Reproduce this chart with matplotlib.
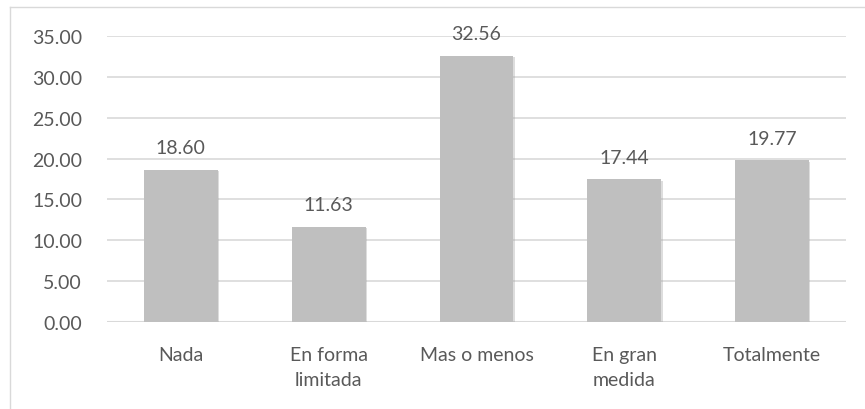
from matplotlib import pyplot as plt
from matplotlib import patheffects as pe
from matplotlib.lines import Line2D
import numpy as np

categories = ['Nada', 'En forma\nlimitada', 'Mas o menos', 'En gran\nmedida', 'Totalmente']
values = [18.60, 11.63, 32.56, 17.44, 19.77]
yticks = [0, 5, 10, 15, 20, 25, 30, 35]

plt.rcParams['font.family'] = ['Lato', 'DejaVu Sans']
txt = '#595959'
fs = 14

W, H = 865, 410
fig = plt.figure(figsize=(W / 100, H / 100), dpi=100)
ax = fig.add_axes([107 / W, 1 - 323 / H, (846 - 107) / W, (323 - 37) / H])

x = np.arange(len(categories))
bars = ax.bar(x, values, 0.5, color='#bfbfbf', zorder=3)
for b in bars:
    b.set_path_effects([pe.SimplePatchShadow(offset=(1, -1), shadow_rgbFace='#a0a0a0', alpha=0.35),
                        pe.Normal()])

for xi, v in zip(x, values):
    ax.annotate('%.2f' % v, (xi, v), xytext=(0, 10), textcoords='offset points',
                ha='center', va='bottom', fontsize=fs, color=txt)

ax.set_xlim(-0.5, len(categories) - 0.5)
ax.set_ylim(0, 35)
ax.set_yticks(yticks)
ax.set_yticklabels(['%.2f' % t for t in yticks])
ax.set_xticks(x)
ax.set_xticklabels(categories)
ax.tick_params(length=0, labelsize=fs, colors=txt)
ax.tick_params(axis='y', pad=18)
ax.tick_params(axis='x', pad=17)
for lbl in ax.get_xticklabels():
    lbl.set_linespacing(1.6)
ax.grid(axis='y', color='#d9d9d9', linewidth=1.2, zorder=0)
for s in ax.spines.values():
    s.set_visible(False)
ax.axhline(0, color='#d9d9d9', linewidth=1.5, zorder=2)

# chart frame (only left and top edges visible in crop)
fig.add_artist(Line2D([10 / W, 10 / W], [0, 1 - 8 / H], transform=fig.transFigure, color='#d9d9d9', lw=1))
fig.add_artist(Line2D([10 / W, 1], [1 - 8 / H, 1 - 8 / H], transform=fig.transFigure, color='#d9d9d9', lw=1))

plt.savefig('out.png', dpi=100)
